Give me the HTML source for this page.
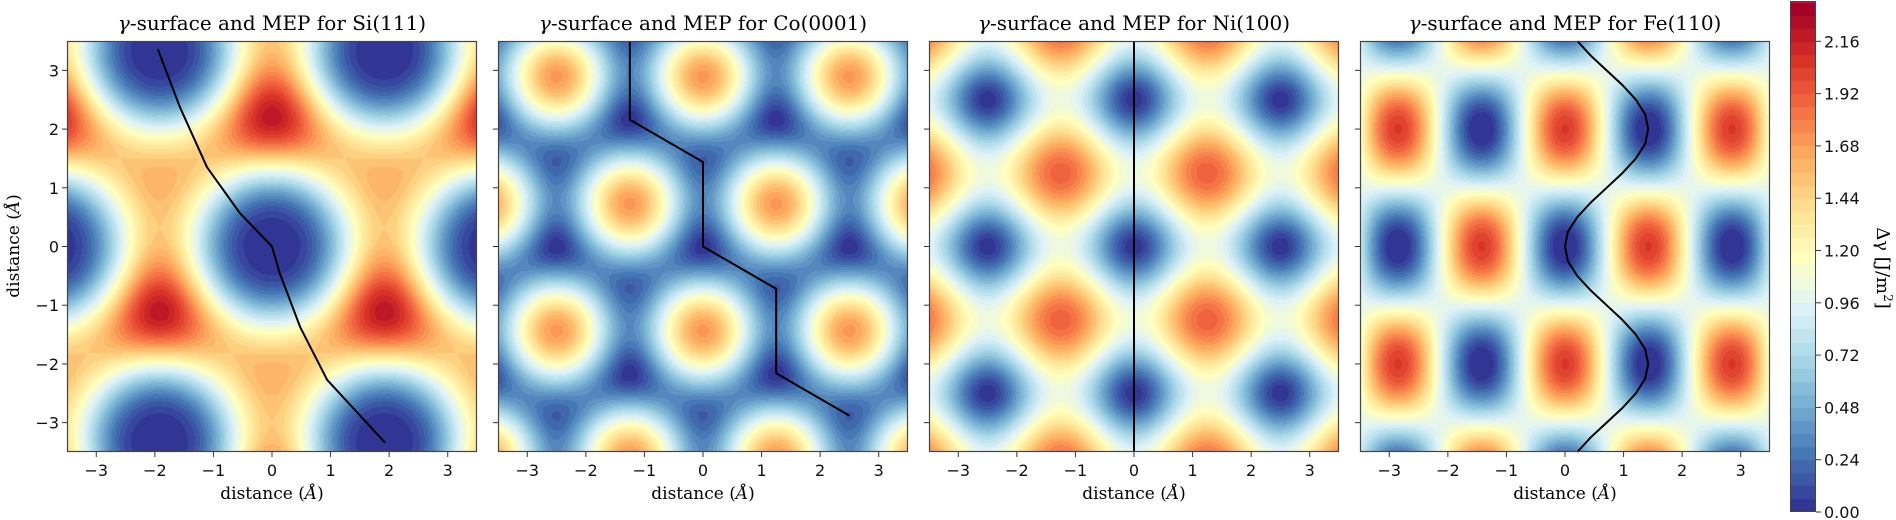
<!DOCTYPE html>
<html><head><meta charset="utf-8">
<style>
body{margin:0;background:#fff;width:1896px;height:520px;overflow:hidden;position:relative;font-family:"DejaVu Sans","Liberation Sans",sans-serif}
canvas{position:absolute}
svg{position:absolute;left:0;top:0}
</style></head>
<body>
<canvas id="c0" width="410" height="411" style="left:67px;top:41px"></canvas>
<canvas id="c1" width="410" height="411" style="left:498px;top:41px"></canvas>
<canvas id="c2" width="410" height="411" style="left:929px;top:41px"></canvas>
<canvas id="c3" width="410" height="411" style="left:1360px;top:41px"></canvas>
<canvas id="cb" width="26" height="511" style="left:1790px;top:1px"></canvas>
<svg id="ov" width="1896" height="520"></svg>
<script>
// ---- data ----
const panelTitles = ["Si(111)","Co(0001)","Ni(100)","Fe(110)"];
const panelLefts = [67,498,929,1360];
const xTicks = [-3,-2,-1,0,1,2,3];
const yTicks = [-3,-2,-1,0,1,2,3];
const cbarTicks = ["0.00","0.24","0.48","0.72","0.96","1.20","1.44","1.68","1.92","2.16"];
const levelStep = [0.06];
const levelMax = [2.345];
// surface parameters
const siParams = [0.143, 1.72, 0.115, 3.84];  // scale, exponent, asymmetry, lattice const
const coParams = [1.7, 0.05, 2.5, -1.44, 0.8]; // peak, hollow asym, lattice const, y offset of peak, exponent
const niParams = [1.9, 2.5, 0.85];            // peak, period, exponent
const feParams = [1.0, 1.05, 2.85, 4.0];      // mean, amplitude, x period, y period
// MEP paths
const siMepX = [-1.95,-1.57,-1.11,-0.55,0.0,0.13,0.48,0.94,1.93];
const siMepY = [3.36,2.37,1.35,0.57,0.0,-0.45,-1.37,-2.27,-3.34];
const coMepX = [-1.25,-1.25,0,0,1.25,1.25,2.5];
const coMepY = [3.5,2.16,1.44,0,-0.72,-2.16,-2.88];
const niMepX = [0,0];
const niMepY = [3.5,-3.5];
const feMepY = [3.5,3.25,3,2.75,2.5,2.25,2,1.75,1.5,1.25,1,0.75,0.5,0.25,0,-0.25,-0.5,-0.75,-1,-1.25,-1.5,-1.75,-2,-2.25,-2.5,-2.75,-3,-3.25,-3.5];
const feMepX = [0.21,0.44,0.71,0.98,1.21,1.37,1.42,1.37,1.21,0.98,0.71,0.44,0.21,0.05,0,0.05,0.21,0.44,0.71,0.98,1.21,1.37,1.42,1.37,1.21,0.98,0.71,0.44,0.21];

// ---- colormap RdYlBu_r ----
const cm=["#313695","#4575b4","#74add1","#abd9e9","#e0f3f8","#ffffbf","#fee090","#fdae61","#f46d43","#d73027","#a50026"].map(h=>[parseInt(h.substr(1,2),16),parseInt(h.substr(3,2),16),parseInt(h.substr(5,2),16)]);
function cmap(t){t=Math.max(0,Math.min(1,t));const s=t*10,i=Math.min(9,Math.floor(s)),f=s-i;return cm[i].map((v,k)=>Math.round(v+(cm[i+1][k]-v)*f));}
const NB=Math.round(levelMax[0]/levelStep[0]);
function bandColor(v){let b=Math.floor(v/levelStep[0]);b=Math.max(0,Math.min(NB-1,b));return cmap(b/(NB-1));}

// ---- surfaces ----
function hexSum(x,y,k){const c=Math.cos(Math.PI/6);const g=[[0,k],[-k*c,-k/2],[k*c,-k/2]];let C=0,S=0;for(const q of g){const p=q[0]*x+q[1]*y;C+=Math.cos(p);S+=Math.sin(p);}return [C,S];}
const funcs=[
 (x,y)=>{const k=4*Math.PI/(siParams[3]*Math.sqrt(3));const [C,S]=hexSum(x,y,k);const u=Math.max(0,3-C);return siParams[0]*Math.pow(u,siParams[1])-siParams[2]*S*Math.pow(u/4.5,2);},
 (x,y)=>{const k=4*Math.PI/(coParams[2]*Math.sqrt(3));const [C,S]=hexSum(x,y-coParams[3],k);let u=C+1.5+coParams[1]*(S+2.598);const um=4.5+coParams[1]*2.598;return coParams[0]*Math.pow(Math.max(u,0)/um,coParams[4]);},
 (x,y)=>{const k=2*Math.PI/niParams[1];const u=2-Math.cos(k*x)-Math.cos(k*y);return niParams[0]*Math.pow(Math.max(u,0)/4,niParams[2]);},
 (x,y)=>feParams[0]-feParams[1]*Math.cos(2*Math.PI*x/feParams[2])*Math.cos(2*Math.PI*y/feParams[3])
];
const W=410,H=411;
const xs=px=>-3.5+7*(px+0.5)/W, ys=py=>3.5-7*(py+0.5)/H;
funcs.forEach((f,i)=>{const ctx=document.getElementById('c'+i).getContext('2d');const im=ctx.createImageData(W,H);
 for(let py=0;py<H;py++)for(let px=0;px<W;px++){const c=bandColor(f(xs(px),ys(py)));const o=(py*W+px)*4;im.data[o]=c[0];im.data[o+1]=c[1];im.data[o+2]=c[2];im.data[o+3]=255;}
 ctx.putImageData(im,0,0);});
// colorbar
(function(){const ctx=document.getElementById('cb').getContext('2d');const h=511;
 for(let b=0;b<NB;b++){const c=cmap(b/(NB-1));const y0=h-(b+1)*levelStep[0]/levelMax[0]*h,y1=h-b*levelStep[0]/levelMax[0]*h;ctx.fillStyle=`rgb(${c})`;ctx.fillRect(0,Math.floor(y0),26,Math.ceil(y1)-Math.floor(y0));}})();

// ---- overlay ----
const NS="http://www.w3.org/2000/svg", ov=document.getElementById('ov');
function mk(t,a,txt){const e=document.createElementNS(NS,t);for(const k in a)e.setAttribute(k,a[k]);if(txt!==undefined)e.textContent=txt;ov.appendChild(e);return e;}
const TOP=41,BOT=452;
const sx=(i,v)=>panelLefts[i]+(v+3.5)/7*W, sy=v=>TOP+(3.5-v)/7*H;
const mepX=[siMepX,coMepX,niMepX,feMepX], mepY=[siMepY,coMepY,niMepY,feMepY];
panelTitles.forEach((t,i)=>{
 const L=panelLefts[i];
 let d="";mepX[i].forEach((x,j)=>{d+=(j?"L":"M")+sx(i,x).toFixed(1)+","+sy(mepY[i][j]).toFixed(1);});
 const p=mk('path',{d:d,fill:'none',stroke:'#000','stroke-width':2,'stroke-linejoin':'round'});
 
 
 const fr=mk('rect',{x:L+0.5,y:TOP+0.5,width:W-1,height:H-1,fill:'none',stroke:'#444','stroke-width':1.2});
 
 
 const tt=mk('text',{x:L+W/2,y:30,'text-anchor':'middle','font-family':'DejaVu Serif, Liberation Serif, serif','font-size':20});
 
 
 const g=document.createElementNS(NS,'tspan');g.setAttribute('font-style','italic');g.textContent='γ';tt.appendChild(g);
 tt.appendChild(document.createTextNode('-surface and MEP for '+t));
 xTicks.forEach(v=>{const X=sx(i,v);mk('line',{x1:X,x2:X,y1:BOT,y2:BOT+5,stroke:'#333','stroke-width':1});
  const tl=mk('text',{x:X,y:BOT+24,'text-anchor':'middle','font-size':16,fill:'#111'},v<0?'\u2212'+(-v):String(v));
  
  });
 yTicks.forEach(v=>{const Y=sy(v);mk('line',{x1:L-5,x2:L,y1:Y,y2:Y,stroke:'#333','stroke-width':1});
  if(i===0){const tl=mk('text',{x:L-8,y:Y+6,'text-anchor':'end','font-size':16,fill:'#111'},v<0?'\u2212'+(-v):String(v));
  
  }});
 const xl=mk('text',{x:L+W/2,y:499,'text-anchor':'middle','font-family':'DejaVu Serif, Liberation Serif, serif','font-size':17},'distance (');
 
 
 const a=document.createElementNS(NS,'tspan');a.setAttribute('font-style','italic');a.textContent='Å';xl.appendChild(a);xl.appendChild(document.createTextNode(')'));
});
const yl=mk('text',{transform:'translate(19,246) rotate(-90)','text-anchor':'middle','font-family':'DejaVu Serif, Liberation Serif, serif','font-size':17},'distance (');


{const a=document.createElementNS(NS,'tspan');a.setAttribute('font-style','italic');a.textContent='Å';yl.appendChild(a);yl.appendChild(document.createTextNode(')'));}
const cbf=mk('rect',{x:1790.5,y:1.5,width:25,height:510,fill:'none',stroke:'#444','stroke-width':1});


cbarTicks.forEach(s=>{const Y=1+511-parseFloat(s)/levelMax[0]*511;mk('line',{x1:1816,x2:1821,y1:Y,y2:Y,stroke:'#333'});
 const tl=mk('text',{x:1824,y:Y+6,'font-size':16,fill:'#111'},s);
 
 });
const cl=mk('text',{transform:'translate(1877,268) rotate(90)','text-anchor':'middle','font-family':'DejaVu Serif, Liberation Serif, serif','font-size':18},'Δγ [J/m');


{const s=document.createElementNS(NS,'tspan');s.setAttribute('baseline-shift','super');s.setAttribute('font-size','12');s.textContent='2';cl.appendChild(s);cl.appendChild(document.createTextNode(']'));}
</script>
</body></html>
